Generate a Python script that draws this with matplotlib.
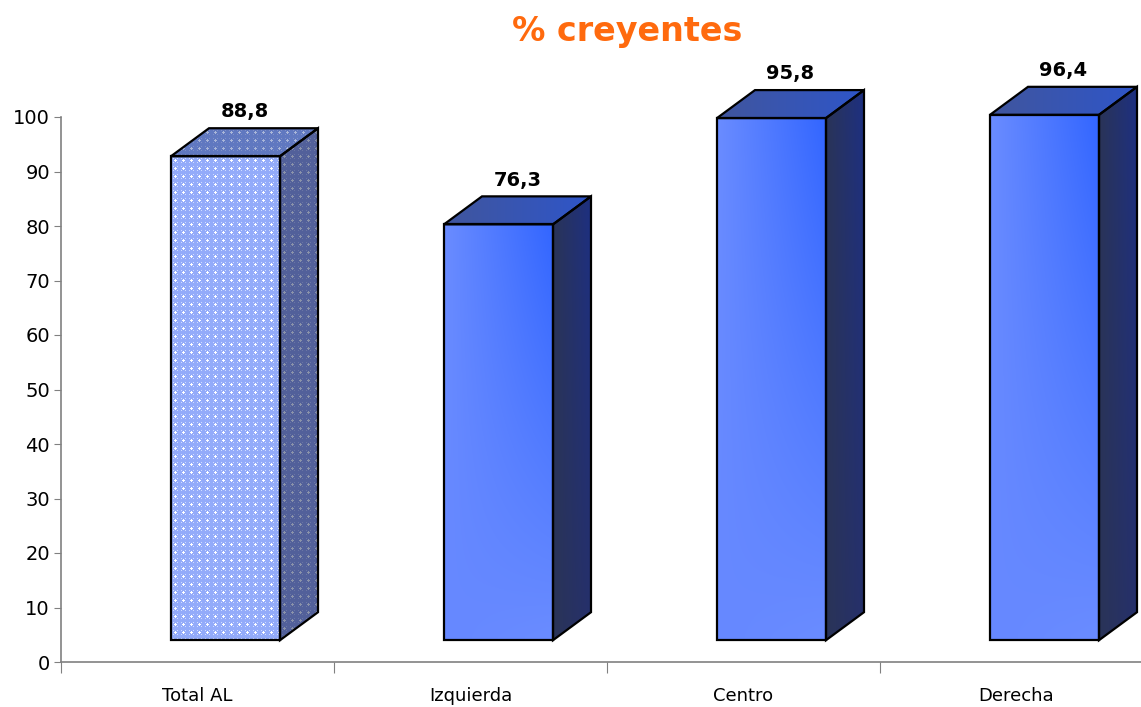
import numpy as np
import matplotlib
matplotlib.use("Agg")
import matplotlib.pyplot as plt
from matplotlib.patches import Polygon
from matplotlib.colors import to_rgb

# data
categories = ["Total AL", "Izquierda", "Centro", "Derecha"]
values = [88.8, 76.3, 95.8, 96.4]
labels = ["88,8", "76,3", "95,8", "96,4"]
title = "% creyentes"

W, H = 1141, 707
fig = plt.figure(figsize=(W / 100, H / 100), dpi=100)
ax_left, ax_bot, ax_top = 61, 662, 117
cat_px = 273.0
ax_w = W - ax_left
ax = fig.add_axes([ax_left / W, 1 - ax_bot / H, ax_w / W, (ax_bot - ax_top) / H])
xlim = (-0.5, -0.5 + ax_w / cat_px)

px_x = 1.0 / cat_px               # one pixel in x data units
px_y = 100.0 / (ax_bot - ax_top)  # one pixel in y data units

base = 4.0                # front face starts above the floor
off = -26.5 * px_x        # front left edge relative to centre
bw = 109 * px_x
dx = 38 * px_x
dy = 28 * px_y


def grad_img(ny, nx, tl, tr, bl, br):
    u = np.linspace(0, 1, nx)[None, :, None]
    v = np.linspace(0, 1, ny)[:, None, None]
    tl, tr, bl, br = [np.array(to_rgb(c)) for c in (tl, tr, bl, br)]
    top = tl + (tr - tl) * u
    bot = bl + (br - bl) * u
    return top + (bot - top) * v


def fill_poly(pts, img, interp="bilinear"):
    poly = Polygon(pts, closed=True, facecolor="none", edgecolor="none", clip_on=False)
    ax.add_patch(poly)
    xs = [p[0] for p in pts]
    ys = [p[1] for p in pts]
    im = ax.imshow(img, extent=(min(xs), max(xs), min(ys), max(ys)),
                   origin="upper", aspect="auto", interpolation=interp, zorder=2)
    im.set_clip_path(poly)
    im.set_clip_box(fig.bbox)


def pattern(ny, nx, c_base, c_dot, c_mid):
    b, d, m = np.array(to_rgb(c_base)), np.array(to_rgb(c_dot)), np.array(to_rgb(c_mid))
    yy, xx = np.mgrid[0:ny, 0:nx]
    img = np.tile(b, (ny, nx, 1))
    small = ((xx % 4 == 2) & (yy % 4 == 2))
    img[small] = m
    cx = (xx % 8 == 4) & (np.abs(yy % 8 - 4) <= 1)
    cy = (yy % 8 == 4) & (np.abs(xx % 8 - 4) <= 1)
    img[cx | cy] = d
    return img


for i, (v, lab) in enumerate(zip(values, labels)):
    x0 = i + off
    x1 = x0 + bw
    y0 = base
    y1 = v + base
    front = [(x0, y0), (x1, y0), (x1, y1), (x0, y1)]
    side = [(x1, y0), (x1 + dx, y0 + dy), (x1 + dx, y1 + dy), (x1, y1)]
    top = [(x0, y1), (x1, y1), (x1 + dx, y1 + dy), (x0 + dx, y1 + dy)]
    hpx = int(round((y1 - y0) / px_y))
    if i == 0:
        fill_poly(front, pattern(hpx, 109, "#93abfa", "#ffffff", "#d0dcff"), "nearest")
        fill_poly(side, pattern(hpx + 28, 38, "#52609a", "#8a92aa", "#6a76a4"), "nearest")
        fill_poly(top, pattern(28, 147, "#6078c0", "#aab6d8", "#8090c8"), "nearest")
    else:
        fill_poly(front, grad_img(60, 60, "#6a8cff", "#3366ff", "#6688ff", "#6a8cff"))
        fill_poly(side, grad_img(20, 20, "#2a3458", "#1e3080", "#2a3458", "#26306a"))
        fill_poly(top, grad_img(10, 20, "#40569e", "#2f55c8", "#40569e", "#2f55c8"))
    for pts in (front, side, top):
        ax.add_patch(Polygon(pts, closed=True, facecolor="none", edgecolor="black",
                             linewidth=1.6, joinstyle="miter", zorder=3, clip_on=False))
    ax.text(i + off + (bw + dx) / 2, y1 + dy + 3, lab, ha="center", va="center",
            fontsize=14, fontweight="bold", color="black")

ax.set_yticks(np.arange(0, 101, 10))
ax.tick_params(axis="y", labelsize=14, length=5, color="#808080", pad=3)
ax.set_xticks(np.arange(len(categories)) - 0.5, minor=False)
ax.set_xticklabels([""] * len(categories))
ax.set_xticks(np.arange(len(categories)), minor=True)
ax.set_xticklabels(categories, minor=True)
ax.tick_params(axis="x", which="major", length=8, color="#808080")
ax.tick_params(axis="x", which="minor", length=0, labelsize=13, pad=18)
ax.set_xlim(*xlim)
ax.set_ylim(0, 100)
for s in ("top", "right"):
    ax.spines[s].set_visible(False)
for s in ("left", "bottom"):
    ax.spines[s].set_color("#808080")
    ax.spines[s].set_linewidth(1.2)

fig.text(627 / W, 1 - 32 / H, title, ha="center", va="center",
         fontsize=24, fontweight="bold", color="#ff6a0e")

fig.savefig("out.png", dpi=100)
